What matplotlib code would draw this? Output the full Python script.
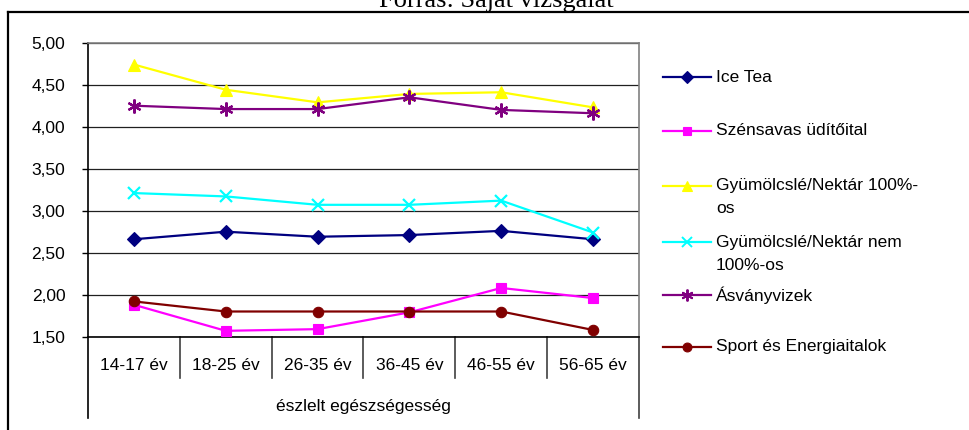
import matplotlib.pyplot as plt
from matplotlib.lines import Line2D
import numpy as np

# kategóriák és adatok
categories = ['14-17 év', '18-25 év', '26-35 év', '36-45 év', '46-55 év', '56-65 év']
ice_tea = [2.66, 2.75, 2.69, 2.71, 2.76, 2.66]
szensavas = [1.88, 1.57, 1.59, 1.79, 2.08, 1.96]
gyum_100 = [4.74, 4.44, 4.29, 4.39, 4.41, 4.23]
gyum_nem100 = [3.21, 3.17, 3.07, 3.07, 3.12, 2.74]
asvanyvizek = [4.25, 4.21, 4.21, 4.35, 4.20, 4.16]
sport = [1.92, 1.80, 1.80, 1.80, 1.80, 1.58]

labels = ['Ice Tea', 'Szénsavas üdítőital', 'Gyümölcslé/Nektár 100%-\nos',
          'Gyümölcslé/Nektár nem\n100%-os', 'Ásványvizek', 'Sport és Energiaitalok']
series = [ice_tea, szensavas, gyum_100, gyum_nem100, asvanyvizek, sport]
colors = ['#000080', '#FF00FF', '#FFFF00', '#00FFFF', '#800080', '#800000']
markers = ['D', 's', '^', 'x', (6, 2, 0), 'o']
msizes = [7, 7, 8, 9, 10, 7.5]

W, H = 970, 430
plt.rcParams['font.family'] = ['Liberation Sans', 'DejaVu Sans']
fs = 12.5


def fx(x):
    return x / W


def fy(y):
    return 1 - y / H


fig = plt.figure(figsize=(W / 100, H / 100), dpi=100)

# plot terület pixelben
left, right, top, bottom = 88, 639, 42.7, 336.7
ax = fig.add_axes([fx(left), fy(bottom), (right - left) / W, (bottom - top) / H])

x = np.arange(len(categories))
for vals, c, m, ms in zip(series, colors, markers, msizes):
    ax.plot(x, vals, color=c, marker=m, markersize=ms, linewidth=1.6,
            markeredgewidth=1.6 if m in ('x', (6, 2, 0)) else 0.8, clip_on=False, zorder=3)

ax.set_xlim(-0.5, len(categories) - 0.5)
ax.set_ylim(1.5, 5.0)
yt = np.arange(1.5, 5.01, 0.5)
ax.set_yticks(yt)
ax.set_yticklabels([f'{v:.2f}'.replace('.', ',') for v in yt], fontsize=fs)
ax.tick_params(axis='y', length=4.3, width=1, pad=12, direction='out')
ax.set_xticks([])
ax.grid(True, axis='y', color='#202020', linewidth=0.9)
ax.set_axisbelow(True)

ax.spines['left'].set_color('black')
ax.spines['bottom'].set_color('black')
ax.spines['top'].set_color('#808080')
ax.spines['right'].set_color('#808080')
for s in ax.spines.values():
    s.set_linewidth(1.2)

# többszintű kategória tengely
ph = bottom - top
trans = ax.get_xaxis_transform()
sep_y = -(378 - bottom) / ph
out_y = -(418 - bottom) / ph
for k in range(len(categories) + 1):
    y_end = out_y if k in (0, len(categories)) else sep_y
    col = 'black' if k == 0 else '#404040'
    ax.plot([k - 0.5, k - 0.5], [0, y_end], color=col, linewidth=1.2, transform=trans, clip_on=False)
for i, cat in enumerate(categories):
    ax.text(i, -(365 - bottom) / ph, cat, transform=trans, ha='center', va='center', fontsize=fs)
ax.text((len(categories) - 1) / 2, -(407 - bottom) / ph, 'észlelt egészségesség',
        transform=trans, ha='center', va='center', fontsize=fs)

# jelmagyarázat kézzel
leg_y = [77, 131, 186, 242, 295, 347]
for lab, c, m, ms, ly in zip(labels, colors, markers, msizes, leg_y):
    fig.add_artist(Line2D([fx(663), fx(711)], [fy(ly), fy(ly)], color=c, linewidth=1.6))
    fig.add_artist(Line2D([fx(687)], [fy(ly)], color=c, marker=m, markersize=ms * 0.85,
                          markeredgewidth=1.4 if m in ('x', (6, 2, 0)) else 0.8))
    for j, part in enumerate(lab.split('\n')):
        fig.text(fx(716), fy(ly + j * 23), part, ha='left', va='center', fontsize=fs)

# keret
fig.add_artist(Line2D([fx(8), fx(8)], [fy(12), -0.05], color='black', linewidth=1.6))
fig.add_artist(Line2D([fx(8), 1.05], [fy(12), fy(12)], color='black', linewidth=1.6))

# levágott cím (a mintán is le van vágva)
fig.text(fx(496), fy(7), 'Forrás: Saját vizsgálat', ha='center', va='baseline',
         fontsize=19, family='Liberation Serif')

fig.savefig('out.png', dpi=100)
